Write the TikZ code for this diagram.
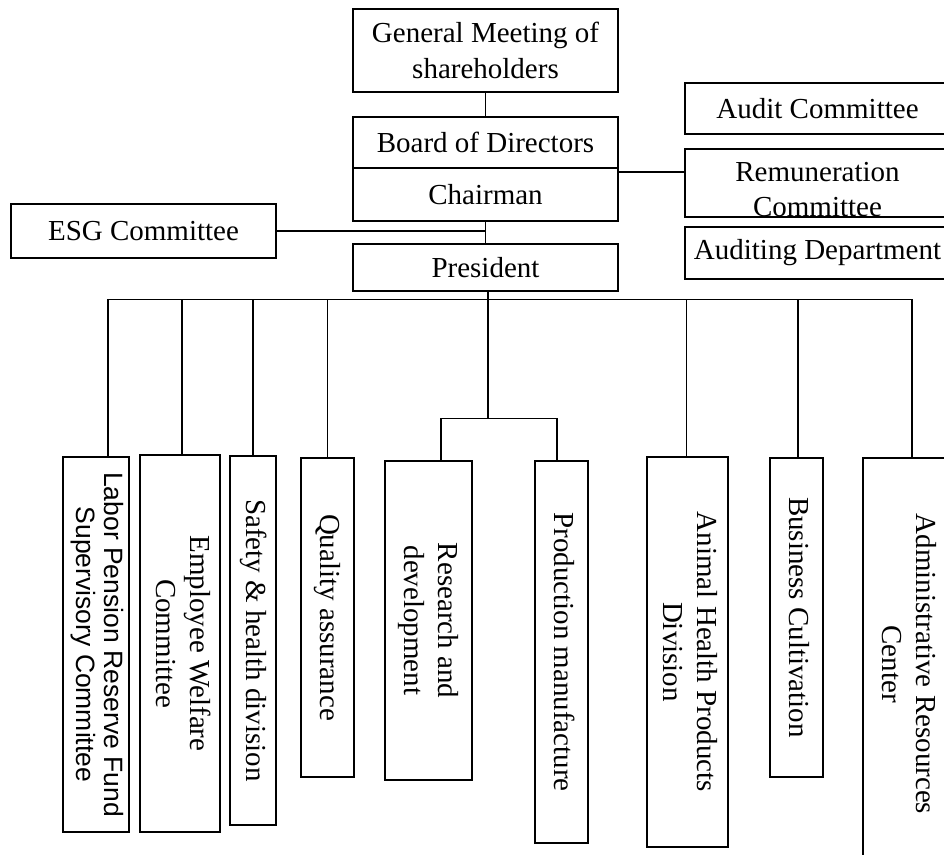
\documentclass[tikz,border=0pt]{standalone}
\usepackage{fontspec}
\setmainfont{Liberation Serif}
\newfontfamily\arialfont{Liberation Sans}
\usepackage{graphicx}
\usetikzlibrary{positioning,calc}

\newcommand{\vtext}[1]{\rotatebox{-90}{\begin{tabular}{@{}c@{}}#1\end{tabular}}}

\begin{document}
\begin{tikzpicture}[x=1pt,y=-1pt,
    hbox/.style={draw, line width=1.5pt, minimum width=265pt, inner sep=0pt,
                 align=center, font=\fontsize{29}{36}\selectfont},
    vbox/.style={draw, line width=1.5pt, inner sep=0pt,
                 font=\fontsize{29}{34}\selectfont},
    link/.style={line width=1.4pt}]
    \clip (0,0) rectangle (944,854);
    % direction
    \node[hbox, minimum height=83pt] (gm) at (485.5,50.5) {General Meeting of\\shareholders};
    \node[hbox, minimum height=51pt] (bod) at (485.5,142.5) {Board of Directors};
    \node[hbox, minimum height=53pt] (chair) at (485.5,194.5) {Chairman};
    \node[hbox, minimum height=47pt] (pres) at (485.5,267.5) {President};
    \node[hbox, minimum height=54pt] (esg) at (143.5,231) {ESG Committee};
    % comites a droite
    \node[hbox, minimum height=51pt] (audit) at (817.5,108.5) {Audit Committee};
    \node[hbox, minimum height=68pt] (remu) at (817.5,183) {};
    \begin{scope}
      \clip (remu.south west) rectangle (remu.north east);
      \node[inner sep=0pt, align=center, font=\fontsize{29}{35}\selectfont]
        (remutext) at (817.5,190) {Remuneration\\Committee};
    \end{scope}
    \node[hbox, minimum height=52pt] (audd) at (817.5,253) {Auditing Department};
    % services sous le president
    \node[vbox, minimum width=66pt, minimum height=375pt] (lab) at (96,644.5)
      {\arialfont\fontsize{26.5}{27}\selectfont\vtext{Labor Pension Reserve Fund\\Supervisory Committee}};
    \node[vbox, minimum width=80pt, minimum height=377pt] (emp) at (180,643.5) {\vtext{Employee Welfare\\Committee}};
    \node[vbox, minimum width=46pt, minimum height=369pt] (saf) at (253,640.5) {\vtext{Safety \& health division}};
    \node[vbox, minimum width=53pt, minimum height=319pt] (qa) at (327.5,617.5) {\vtext{Quality assurance}};
    \node[vbox, minimum width=87pt, minimum height=319pt] (rd) at (428.5,620.5) {\vtext{Research and\\development}};
    \node[vbox, minimum width=53pt, minimum height=382pt] (prod) at (561.5,652) {\vtext{Production manufacture}};
    \node[vbox, minimum width=81pt, minimum height=390pt] (ahp) at (687.5,652) {\vtext{Animal Health Products\\Division}};
    \node[vbox, minimum width=53pt, minimum height=319pt] (bc) at (796.5,617.5) {\vtext{Business Cultivation}};
    \node[vbox, minimum width=86pt, minimum height=412pt] (arc) at (906,664) {\vtext{Administrative Resources\\Center}};
    % liaisons
    \draw[link] (gm) -- (bod);
    \draw[link] (chair) -- (pres);
    \draw[link] (esg.east) -- (esg.east -| chair.south);
    \draw[link] ([yshift=11pt]remu.west) -- ([yshift=11pt]remu.west -| chair.east);
    \coordinate (bus) at ($(pres.south)+(2.5,8)$);
    \coordinate (split) at ($(bus)+(0,119)$);
    \draw[link] (pres.south -| bus) -- (split);
    \foreach \n/\dx in {lab/12,emp/2,saf/0,qa/0,ahp/-1,bc/1.5,arc/6}
      \draw[link] ([xshift=\dx pt]\n.north) |- (bus);
    \draw[link] ([xshift=12.5pt]rd.north) |- (split) -| ([xshift=-4.5pt]prod.north);
\end{tikzpicture}
\end{document}
